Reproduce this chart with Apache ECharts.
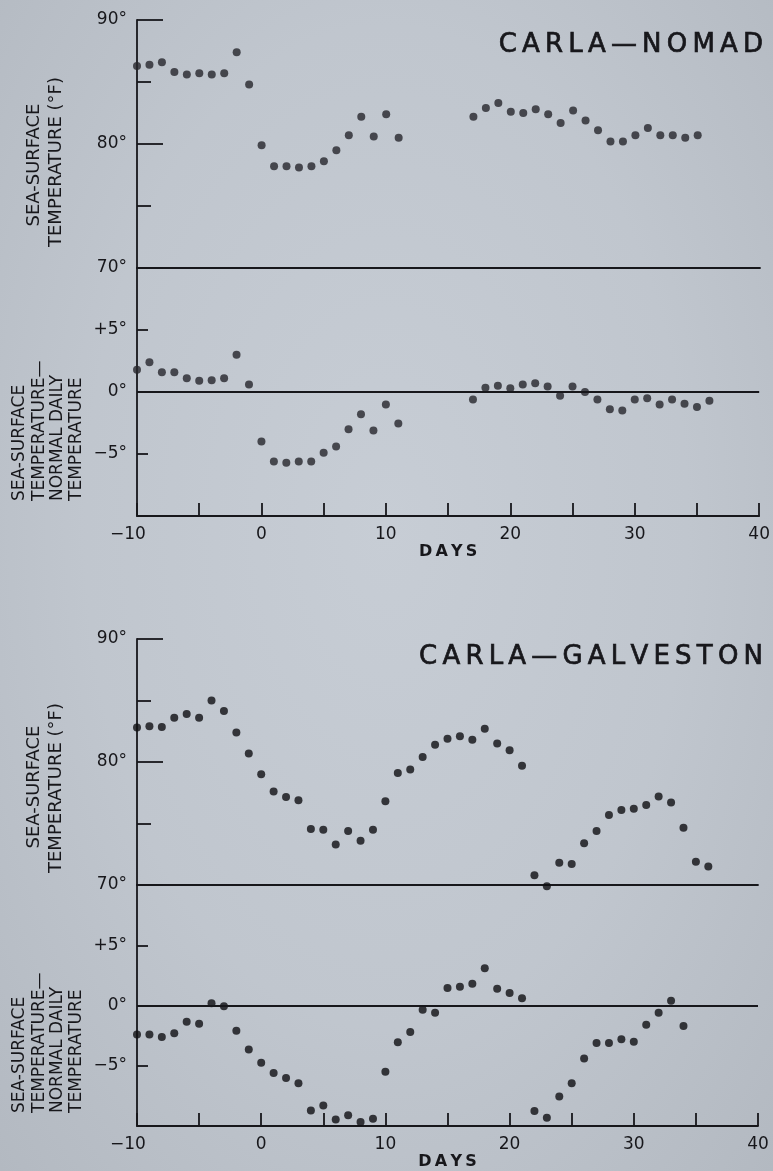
<!DOCTYPE html>
<html>
<head>
<meta charset="utf-8">
<script src="https://cdn.jsdelivr.net/npm/echarts@6/dist/echarts.min.js"></script>
<style>
  html, body { margin: 0; padding: 0; width: 773px; height: 1171px; overflow: hidden;
    background: radial-gradient(ellipse at 50% 45%, #c7cdd5 0%, #c0c6ce 55%, #b3b9c1 100%); }
  #chart { width: 773px; height: 1171px; }
</style>
</head>
<body>
<div id="chart"></div>
<script>
// Hurricane Carla: sea-surface temperature (deg F) and departure from normal daily temperature
const nomadTempDays = [-10,-9,-8,-7,-6,-5,-4,-3,-2,-1,0,1,2,3,4,5,6,7,8,9,10,11,
  17,18,19,20,21,22,23,24,25,26,27,28,29,30,31,32,33,34,35];
const nomadTemp = [86.3,86.4,86.6,85.8,85.6,85.7,85.6,85.7,87.4,84.8,79.9,78.2,78.2,78.1,78.2,78.6,79.5,80.7,82.2,80.6,82.4,80.5,
  82.2,82.9,83.3,82.6,82.5,82.8,82.4,81.7,82.7,81.9,81.1,80.2,80.2,80.7,81.3,80.7,80.7,80.5,80.7];

const nomadAnomDays = [-10,-9,-8,-7,-6,-5,-4,-3,-2,-1,0,1,2,3,4,5,6,7,8,9,10,11,
  17,18,19,20,21,22,23,24,25,26,27,28,29,30,31,32,33,34,35,36];
const nomadAnom = [1.8,2.4,1.6,1.6,1.1,0.9,0.95,1.1,3.0,0.6,-4.0,-5.6,-5.7,-5.6,-5.6,-4.9,-4.4,-3.0,-1.8,-3.1,-1.0,-2.55,
  -0.6,0.35,0.5,0.3,0.6,0.7,0.45,-0.3,0.45,0.0,-0.6,-1.4,-1.5,-0.6,-0.5,-1.0,-0.6,-0.95,-1.2,-0.7];

const galvTempDays = [-10,-9,-8,-7,-6,-5,-4,-3,-2,-1,0,1,2,3,4,5,6,7,8,9,10,11,
  12,13,14,15,16,17,18,19,20,21,22,23,24,25,26,27,28,29,30,31,32,33,34,35,36];
const galvTemp = [82.8,82.9,82.85,83.6,83.9,83.6,85.0,84.15,82.4,80.7,79.0,77.6,77.15,76.9,74.55,74.5,73.3,74.4,73.6,74.5,76.8,79.1,
  79.4,80.4,81.4,81.9,82.1,81.8,82.7,81.5,80.95,79.7,70.8,69.9,71.8,71.7,73.4,74.4,75.7,76.1,76.2,76.5,77.2,76.7,74.65,71.9,71.5];

const galvAnomDays = [-10,-9,-8,-7,-6,-5,-4,-3,-2,-1,0,1,2,3,4,5,6,7,8,9,10,11,
  12,13,14,15,16,17,18,19,20,21,22,23,24,25,26,27,28,29,30,31,32,33,34];
const galvAnom = [-2.4,-2.4,-2.6,-2.3,-1.35,-1.5,0.2,-0.05,-2.1,-3.65,-4.75,-5.6,-6.0,-6.45,-8.7,-8.3,-9.45,-9.1,-9.65,-9.4,-5.5,-3.05,
  -2.2,-0.35,-0.6,1.45,1.55,1.8,3.1,1.4,1.05,0.6,-8.75,-9.3,-7.55,-6.45,-4.4,-3.1,-3.1,-2.8,-3.0,-1.6,-0.6,0.4,-1.7];

const titles = ['CARLA—NOMAD', 'CARLA—GALVESTON'];
const tempAxisName = ['SEA-SURFACE', 'TEMPERATURE (°F)'];
const anomAxisName = ['SEA-SURFACE', 'TEMPERATURE—', 'NORMAL DAILY', 'TEMPERATURE'];
const anomTickLabels = { '5': '+5°', '0': '0°', '-5': '−5°' };
const dayTickLabels = { '-10': '−10', '0': '0', '10': '10', '20': '20', '30': '30', '40': '40' };

const INK = '#17171b';
const FONT = 'DejaVu Sans';
const spaced = s => s.split('').join('\u2009');
const pairs = (days, vals) => days.map((d, i) => [d, vals[i]]);

const panels = [
  { top: 20, h1: 248, h2: 248, right: 13, dot: '#26262c', nameGap: 20,
    temp: pairs(nomadTempDays, nomadTemp), anom: pairs(nomadAnomDays, nomadAnom),
    titleY: 45, tempNameY: [165, 162], anomNameY: 501 },
  { top: 639, h1: 246, h2: 245, right: 15, dot: '#0f0f13', nameGap: 22,
    temp: pairs(galvTempDays, galvTemp), anom: pairs(galvAnomDays, galvAnom),
    titleY: 657, tempNameY: [787, 788], anomNameY: 1113 }
];

const axisLine = { show: true, onZero: false, lineStyle: { color: INK, width: 1.8 } };
const tickStyle = { color: INK, width: 1.8 };
const labelStyle = { color: INK, fontFamily: FONT, fontSize: 17 };

const grid = [], xAxis = [], yAxis = [], series = [], graphic = [];

panels.forEach((p, k) => {
  const gT = 2 * k, gA = 2 * k + 1;
  grid.push({ left: 137, right: p.right, top: p.top, height: p.h1 });
  grid.push({ left: 137, right: p.right, top: p.top + p.h1, height: p.h2 });

  // upper plot: its x axis line is the 70° rule
  xAxis.push({ gridIndex: gT, type: 'value', min: -10, max: 40, interval: 5,
    axisLine, axisTick: { show: false }, axisLabel: { show: false }, splitLine: { show: false } });
  // lower plot: day axis
  xAxis.push({ gridIndex: gA, type: 'value', min: -10, max: 40, interval: 5,
    axisLine, splitLine: { show: false },
    axisTick: { show: true, inside: true, length: 13, lineStyle: tickStyle },
    axisLabel: Object.assign({}, labelStyle, { margin: 10,
      formatter: v => v === -10 ? '{m|−10}' : (dayTickLabels[String(v)] || ''),
      rich: { m: { color: INK, fontFamily: FONT, fontSize: 17, padding: [0, 18, 0, 0] } } }),
    name: spaced('DAYS'), nameLocation: 'middle', nameGap: p.nameGap,
    nameTextStyle: { color: INK, fontFamily: FONT, fontSize: 16, fontWeight: 'bold' } });

  yAxis.push({ gridIndex: gT, type: 'value', min: 70, max: 90, interval: 10,
    axisLine, splitLine: { show: false },
    axisTick: { show: true, inside: true, length: 26, lineStyle: tickStyle },
    minorTick: { show: true, splitNumber: 2, length: 14, lineStyle: tickStyle },
    axisLabel: Object.assign({}, labelStyle, { margin: 10, formatter: v => v + '°' }) });
  yAxis.push({ gridIndex: gA, type: 'value', min: -10, max: 10, interval: 5,
    axisLine, splitLine: { show: false },
    axisTick: { show: true, inside: true, length: 11, lineStyle: tickStyle },
    axisLabel: Object.assign({}, labelStyle, { margin: 10,
      formatter: v => anomTickLabels[String(v)] || '' }) });

  series.push({ type: 'scatter', xAxisIndex: gT, yAxisIndex: gT, data: p.temp,
    symbolSize: 8, clip: false, itemStyle: { color: p.dot } });
  series.push({ type: 'scatter', xAxisIndex: gA, yAxisIndex: gA, data: p.anom,
    symbolSize: 8, clip: false, itemStyle: { color: p.dot },
    markLine: { silent: true, symbol: ['none', 'none'], label: { show: false },
      lineStyle: { color: INK, width: 1.8, type: 'solid' }, data: [{ yAxis: 0 }] } });

  graphic.push({ type: 'text', x: 763, y: p.titleY,
    style: { text: spaced(titles[k]), fill: INK, stroke: INK, lineWidth: 0.7, font: '26px "DejaVu Sans"',
      textAlign: 'right', textVerticalAlign: 'middle', align: 'right', verticalAlign: 'middle' } });

  [34, 56].forEach((x, i) => graphic.push({ type: 'text', x, y: p.tempNameY[i], rotation: Math.PI / 2,
    style: { text: tempAxisName[i], fill: INK, font: '18px "DejaVu Sans"',
      textAlign: 'center', textVerticalAlign: 'middle', align: 'center', verticalAlign: 'middle' } }));

  [20, 39.5, 58, 77].forEach((x, i) => graphic.push({ type: 'text', x, y: p.anomNameY, rotation: Math.PI / 2,
    style: { text: anomAxisName[i], fill: INK, font: '17px "DejaVu Sans"',
      textAlign: 'left', textVerticalAlign: 'middle', align: 'left', verticalAlign: 'middle' } }));
});

const chart = echarts.init(document.getElementById('chart'));
chart.setOption({ animation: false, backgroundColor: 'transparent',
  grid, xAxis, yAxis, series, graphic });
</script>
</body>
</html>
